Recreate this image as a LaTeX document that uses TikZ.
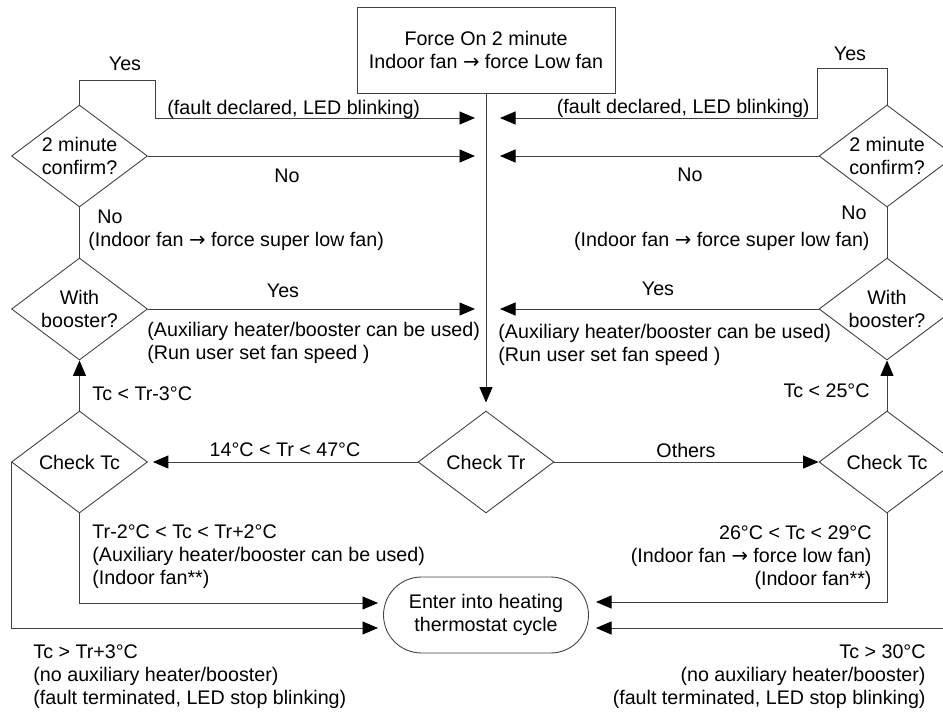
\documentclass[tikz,border=0pt]{standalone}
\usepackage{fontspec}
\setmainfont{Liberation Sans}
\newfontfamily\simbolos{DejaVu Sans}
\newcommand{\fl}{{\simbolos →}}
\usetikzlibrary{shapes.geometric,arrows.meta,positioning}

\begin{document}
\begin{tikzpicture}[x=0.02cm,y=-0.02cm,
    font=\fontsize{11.2}{13.1}\selectfont,
    line width=0.5pt,
    flecha/.style={draw=black!75,-{Triangle[length=3.1mm,width=2.6mm,black]}},
    linea/.style={draw=black!75},
    decision/.style={diamond,draw=black!75,aspect=1.4,inner sep=0pt,align=center,
        minimum width=2.72cm,minimum height=2.04cm},
    caja/.style={rectangle,draw=black!75,align=center,minimum width=5.16cm,minimum height=1.72cm},
    terminal/.style={rectangle,draw=black!75,rounded corners=0.76cm,align=center,
        minimum width=4.1cm,minimum height=1.52cm},
    texto/.style={inner sep=0pt}]
    % Definir las columnas de la figura
    \def\izq{79.5} % columna izquierda
    \def\cen{486}  % columna central
    \def\der{887}  % columna derecha

    \useasboundingbox (0,0) rectangle (943,713);

    % Nodos principales
    \node[caja] (force) at (\cen,50) {Force On 2 minute\\Indoor fan \fl{} force Low fan};
    \node[decision] (confL) at (\izq,156) {2 minute\\confirm?};
    \node[decision] (confR) at (\der,156) {2 minute\\confirm?};
    \node[decision] (boostL) at (\izq,309) {With\\booster?};
    \node[decision] (boostR) at (\der,309) {With\\booster?};
    \node[decision] (checkTcL) at (\izq,462) {Check Tc};
    \node[decision] (checkTr) at (\cen,462) {Check Tr};
    \node[decision] (checkTcR) at (\der,462) {Check Tc};
    \node[terminal] (cycle) at (\cen,615) {Enter into heating\\thermostat cycle};

    % Puntos de llegada junto a la linea central
    \coordinate (faultInL) at (475,118);
    \coordinate (noInL) at (475,156);
    \coordinate (boostInL) at (475,309);
    \coordinate (faultInR) at (500,118);
    \coordinate (noInR) at (500,156);
    \coordinate (boostInR) at (500,309);
    \coordinate (yesL) at (155,80);
    \coordinate (yesR) at (817,68);
    \coordinate (cycleInL1) at (378,603);
    \coordinate (cycleInL2) at (378,628);
    \coordinate (cycleInR1) at (596,602);
    \coordinate (cycleInR2) at (596,628);

    % Linea central
    \draw[flecha, shorten >=0.16cm] (force.south) -- (checkTr.north);

    % Rama izquierda
    \draw[flecha] (confL.north) |- (yesL) |- (faultInL);
    \draw[flecha] (confL.east) -- (noInL);
    \draw[linea] (confL.south) -- (boostL.north);
    \draw[flecha] (boostL.east) -- (boostInL);
    \draw[flecha] (checkTcL.north) -- (boostL.south);
    \draw[flecha, shorten >=0.1cm] (checkTr.west) -- (checkTcL.east);
    \draw[flecha] (checkTcL.south) |- (cycleInL1);
    \draw[flecha] (checkTcL.west) |- (cycleInL2);

    % Rama derecha
    \draw[flecha] (confR.north) |- (yesR) |- (faultInR);
    \draw[flecha] (confR.west) -- (noInR);
    \draw[linea] (confR.south) -- (boostR.north);
    \draw[flecha] (boostR.west) -- (boostInR);
    \draw[flecha] (checkTcR.north) -- (boostR.south);
    \draw[flecha] (checkTr.east) -- (checkTcR.west);
    \draw[flecha] (checkTcR.south) |- (cycleInR1);
    \draw[flecha] (checkTcR.east) |- (cycleInR2);

    % Etiquetas izquierda
    \node[texto, anchor=base] (yesLblL) at (125,71) {Yes};
    \node[texto, anchor=base west] (faultLblL) at (167,114) {(fault declared, LED blinking)};
    \node[texto, anchor=base] (noLblL) at (287,182) {No};
    \node[texto, anchor=base west] (noDownL) at (97,223) {No};
    \node[texto, anchor=base west] (superLowL) at (88,246) {(Indoor fan \fl{} force super low fan)};
    \node[texto, anchor=base] (yesBoostL) at (283,297) {Yes};
    \node[texto, anchor=north west, align=left] (auxL) at (147,322)
        {(Auxiliary heater/booster can be used)\\(Run user set fan speed )};
    \node[texto, anchor=base west] (tcLowL) at (92,400) {Tc < Tr-3°C};
    \node[texto, anchor=base] (trRange) at (285,456) {14°C < Tr < 47°C};
    \node[texto, anchor=north west, align=left] (tcMidL) at (92,524)
        {Tr-2°C < Tc < Tr+2°C\\(Auxiliary heater/booster can be used)\\(Indoor fan**)};
    \node[texto, anchor=north west, align=left] (tcHighL) at (33,644)
        {Tc > Tr+3°C\\(no auxiliary heater/booster)\\(fault terminated, LED stop blinking)};

    % Etiquetas derecha
    \node[texto, anchor=base] (yesLblR) at (850,61) {Yes};
    \node[texto, anchor=base east] (faultLblR) at (810,113) {(fault declared, LED blinking)};
    \node[texto, anchor=base] (noLblR) at (690,181) {No};
    \node[texto, anchor=base east] (noDownR) at (867,219) {No};
    \node[texto, anchor=base east] (superLowR) at (870,246) {(Indoor fan \fl{} force super low fan)};
    \node[texto, anchor=base] (yesBoostR) at (658,295) {Yes};
    \node[texto, anchor=north west, align=left] (auxR) at (498,324)
        {(Auxiliary heater/booster can be used)\\(Run user set fan speed )};
    \node[texto, anchor=base east] (tcLowR) at (870,397) {Tc < 25°C};
    \node[texto, anchor=base] (others) at (686,457) {Others};
    \node[texto, anchor=north east, align=right] (tcMidR) at (872,525)
        {26°C < Tc < 29°C\\(Indoor fan \fl{} force low fan)\\(Indoor fan**)};
    \node[texto, anchor=north east, align=right] (tcHighR) at (926,644)
        {Tc > 30°C\\(no auxiliary heater/booster)\\(fault terminated, LED stop blinking)};
\end{tikzpicture}
\end{document}
